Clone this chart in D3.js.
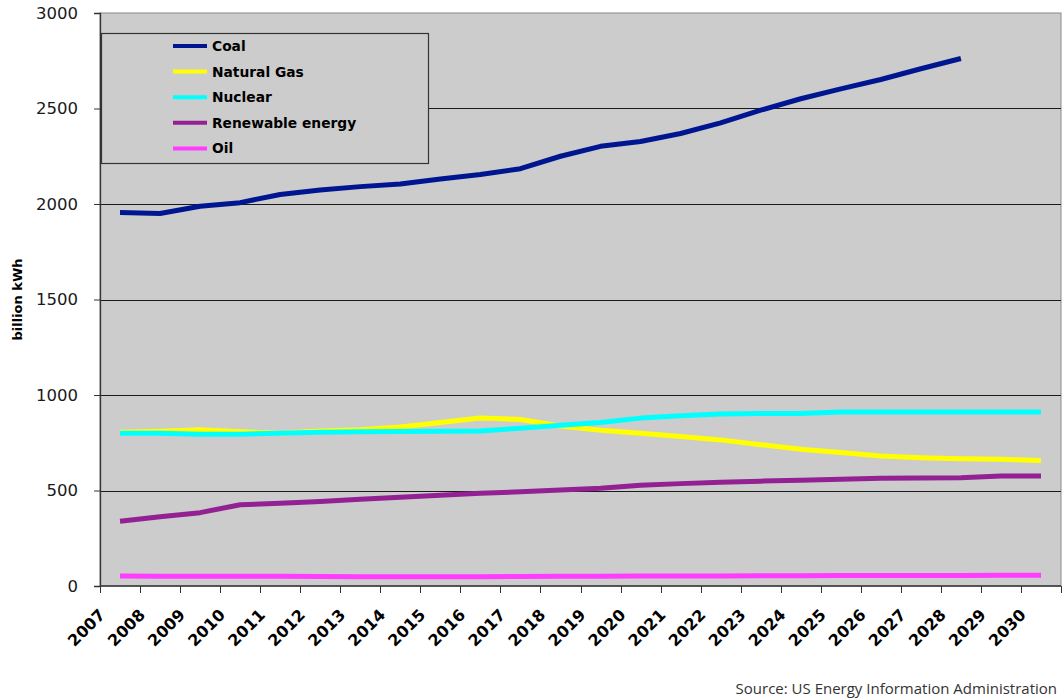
<!DOCTYPE html>
<html>
<head>
<meta charset="utf-8">
<script src="https://cdn.jsdelivr.net/npm/d3@7"></script>
<style>
  html, body { margin: 0; padding: 0; background: #ffffff; }
  svg { display: block; }
</style>
</head>
<body>
<svg id="chart" width="1062" height="700"></svg>
<script>
// Electricity generation by fuel, billion kWh
const years = ["2007","2008","2009","2010","2011","2012","2013","2014","2015","2016","2017","2018",
               "2019","2020","2021","2022","2023","2024","2025","2026","2027","2028","2029","2030"];

const coal       = [1955,1950,1988,2007,2050,2073,2091,2105,2131,2154,2185,2250,
                    2302,2327,2369,2425,2491,2551,2603,2652,2708,2762,null,null];
const naturalGas = [805,810,818,808,800,812,818,832,856,880,872,838,
                    815,800,783,765,740,716,699,681,672,666,663,657];
const nuclear    = [800,800,795,795,800,805,807,809,810,812,826,842,
                    856,879,891,900,903,903,911,911,911,911,911,911];
const renewable  = [339,363,384,425,433,442,454,465,475,486,493,503,
                    512,528,536,543,549,554,559,564,566,567,576,576];
const oil        = [52,51,51,51,51,50,49,49,49,49,50,51,
                    51,52,53,53,54,54,55,55,55,55,56,56];

const seriesNames  = ["Coal","Natural Gas","Nuclear","Renewable energy","Oil"];
const seriesValues = [coal, naturalGas, nuclear, renewable, oil];
const seriesColors = ["#001690","#ffff00","#00ffff","#932193","#ff3cff"];

const yTicks = [0,500,1000,1500,2000,2500,3000];

const svg = d3.select("#chart");
const plotL = 100, plotR = 1061, plotT = 13, plotB = 586;

const x = d3.scaleBand().domain(years).range([plotL, plotR]).paddingInner(0).paddingOuter(0);
const y = d3.scaleLinear().domain([0, 3000]).range([plotB, plotT]);

// plot background
svg.append("rect")
  .attr("x", plotL).attr("y", plotT)
  .attr("width", plotR - plotL).attr("height", plotB - plotT)
  .attr("fill", "#cccccc")
  .attr("stroke", "#8a8a8a").attr("stroke-width", 1);

// horizontal gridlines
svg.append("g")
  .selectAll("line")
  .data(yTicks.filter(t => t > 0 && t < 3000))
  .join("line")
  .attr("x1", plotL).attr("x2", plotR)
  .attr("y1", d => Math.round(y(d)) + 0.5).attr("y2", d => Math.round(y(d)) + 0.5)
  .attr("stroke", "#1a1a1a").attr("stroke-width", 1);

// y axis
const yAxis = svg.append("g")
  .attr("transform", `translate(${plotL},0)`)
  .call(d3.axisLeft(y).tickValues(yTicks).tickSize(6).tickPadding(16).tickFormat(d3.format("d")));
yAxis.select(".domain").attr("stroke", "#333").attr("stroke-width", 1.3);
yAxis.selectAll(".tick line").attr("stroke", "#333");
yAxis.selectAll("text")
  .attr("font-family", "DejaVu Sans, sans-serif")
  .attr("font-size", "16.5px")
  .attr("fill", "#1a1a1a");

// x axis: ticks on category boundaries
const xg = svg.append("g");
xg.append("line")
  .attr("x1", plotL).attr("x2", plotR)
  .attr("y1", plotB).attr("y2", plotB)
  .attr("stroke", "#333").attr("stroke-width", 1.3);
xg.selectAll("line.tk")
  .data(years.concat(["end"]))
  .join("line")
  .attr("class", "tk")
  .attr("x1", d => Math.round(d === "end" ? plotR : x(d)) + 0.5)
  .attr("x2", d => Math.round(d === "end" ? plotR : x(d)) + 0.5)
  .attr("y1", plotB).attr("y2", plotB + 7)
  .attr("stroke", "#333").attr("stroke-width", 1);
xg.selectAll("text")
  .data(years)
  .join("text")
  .attr("transform", d => `translate(${x(d) + 6},${plotB + 30}) rotate(-45)`)
  .attr("text-anchor", "end")
  .attr("font-family", "DejaVu Sans, sans-serif")
  .attr("font-weight", "bold")
  .attr("font-size", "16px")
  .attr("fill", "#000")
  .text(d => d);

// series lines
const line = d3.line()
  .defined(d => d.v != null)
  .x(d => x(d.year) + x.bandwidth() / 2)
  .y(d => y(d.v));

svg.append("g")
  .selectAll("path")
  .data(seriesValues.map((vals, i) => ({ color: seriesColors[i], pts: vals.map((v, j) => ({ year: years[j], v })) })))
  .join("path")
  .attr("d", d => line(d.pts))
  .attr("fill", "none")
  .attr("stroke", d => d.color)
  .attr("stroke-width", 5)
  .attr("stroke-linejoin", "round")
  .attr("stroke-linecap", "butt");

// legend
const lg = svg.append("g");
lg.append("rect")
  .attr("x", 101.5).attr("y", 33.5).attr("width", 327).attr("height", 130)
  .attr("fill", "#cccccc").attr("stroke", "#333").attr("stroke-width", 1.2);
seriesNames.forEach((name, i) => {
  const ly = 46 + i * 25.6;
  lg.append("line")
    .attr("x1", 173).attr("x2", 207).attr("y1", ly).attr("y2", ly)
    .attr("stroke", seriesColors[i]).attr("stroke-width", 4);
  lg.append("text")
    .attr("x", 212).attr("y", ly + 5)
    .attr("font-family", "DejaVu Sans, sans-serif")
    .attr("font-weight", "bold")
    .attr("font-size", "13.8px")
    .attr("fill", "#000")
    .text(name);
});

// axis title
svg.append("text")
  .attr("transform", `translate(22,${(plotT + plotB) / 2}) rotate(-90)`)
  .attr("text-anchor", "middle")
  .attr("font-family", "DejaVu Sans, sans-serif")
  .attr("font-weight", "bold")
  .attr("font-size", "13px")
  .attr("fill", "#000")
  .text("billion kWh");

// source note
svg.append("text")
  .attr("x", 1057).attr("y", 694)
  .attr("text-anchor", "end")
  .attr("font-family", "Open Sans, sans-serif")
  .attr("font-size", "15px")
  .attr("fill", "#333")
  .text("Source: US Energy Information Administration");
</script>
</body>
</html>
